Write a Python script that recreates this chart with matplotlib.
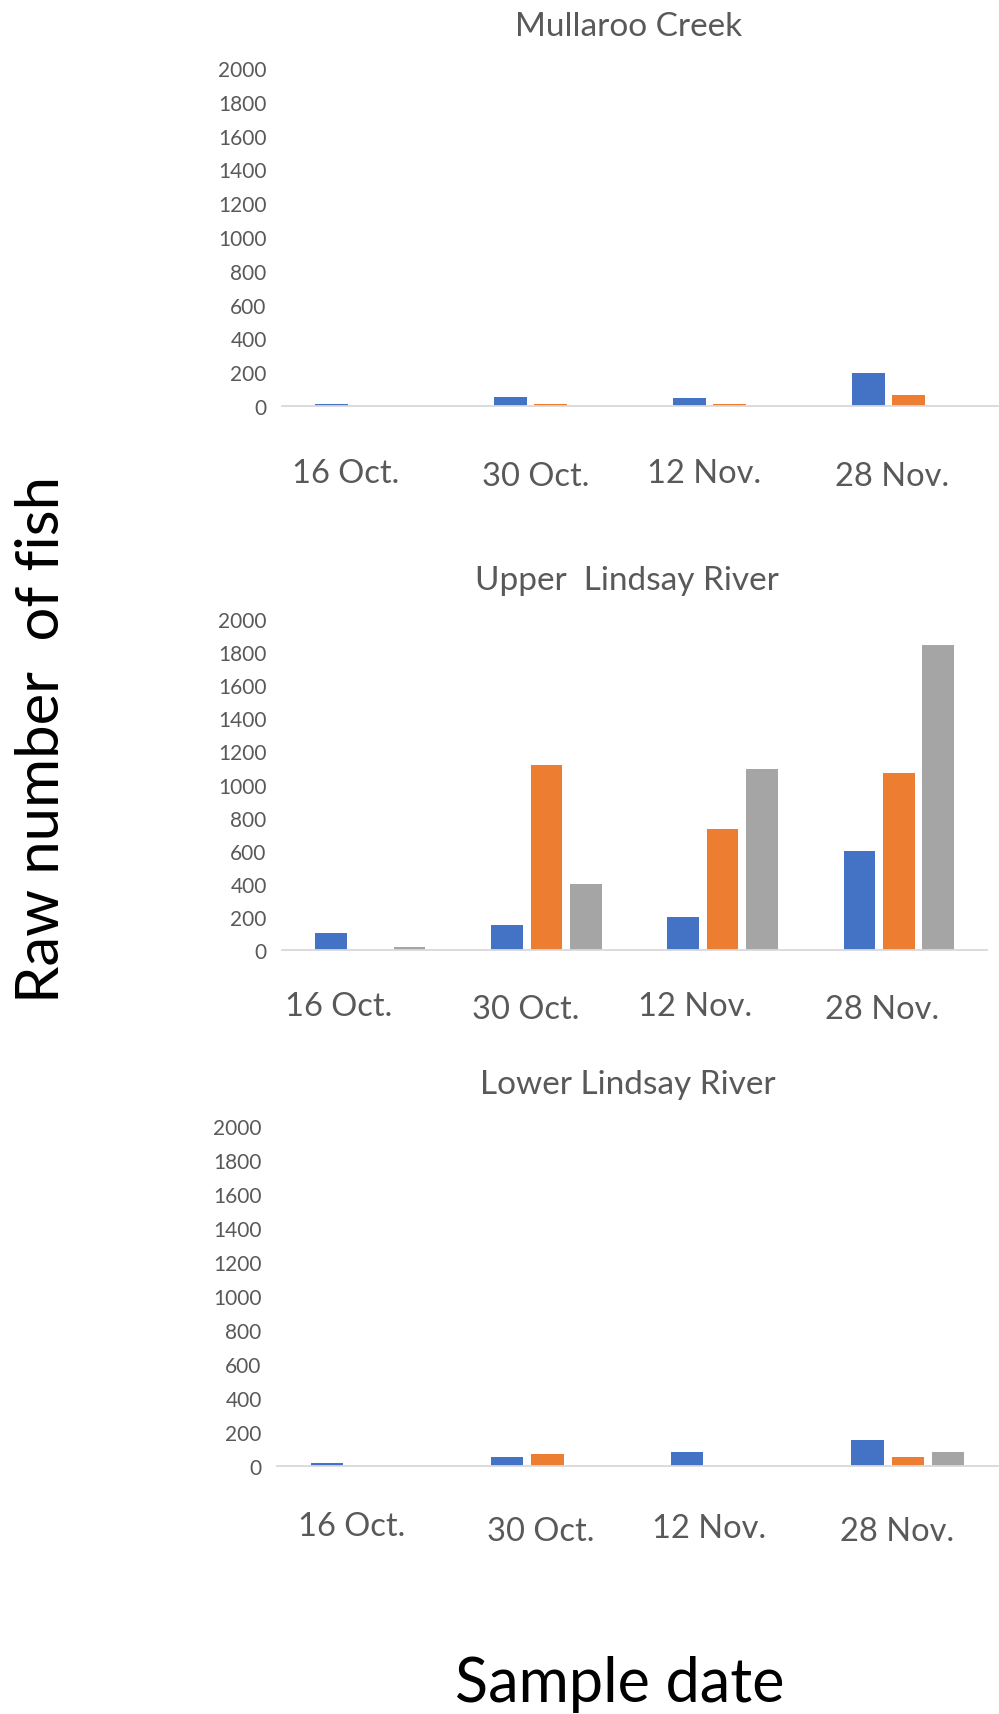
import matplotlib
matplotlib.use("Agg")
import matplotlib.pyplot as plt
import numpy as np

# data
dates = ["16 Oct.", "30 Oct.", "12 Nov.", "28 Nov."]
sites = ["Mullaroo Creek", "Upper  Lindsay River", "Lower Lindsay River"]
mullaroo_a = [12, 51, 45, 194]
mullaroo_b = [0, 14, 12, 65]
mullaroo_c = [0, 0, 0, 0]
upper_a = [100, 150, 200, 600]
upper_b = [0, 1115, 730, 1070]
upper_c = [20, 400, 1095, 1840]
lower_a = [15, 55, 80, 155]
lower_b = [0, 70, 0, 55]
lower_c = [0, 0, 0, 80]

series = [
    (mullaroo_a, mullaroo_b, mullaroo_c),
    (upper_a, upper_b, upper_c),
    (lower_a, lower_b, lower_c),
]
colors = ["#4472C4", "#ED7D31", "#A5A5A5"]

W, H = 999, 1715
plt.rcParams['font.family'] = ['Lato', 'DejaVu Sans']

fig = plt.figure(figsize=(W / 100, H / 100), dpi=100)

# axes boxes in pixels: left, right, y of 2000, y of 0
boxes = [(282, 998, 69, 407), (282, 987, 620, 951), (277, 998, 1127, 1467)]
title_pos = [(629, 27), (627, 581), (628, 1085)]
# date label centres (pixels), these sit a bit off the groups in the original
label_pos = [
    [(346, 474), (536, 477), (704, 474), (892, 477)],
    [(339, 1007), (526, 1010), (695, 1007), (882, 1010)],
    [(352, 1527), (541, 1532), (709, 1529), (897, 1532)],
]

x = np.arange(len(dates))
for i, (l, r, top, bot) in enumerate(boxes):
    ax = fig.add_axes([l / W, 1 - bot / H, (r - l) / W, (bot - top) / H])
    for k, vals in enumerate(series[i]):
        ax.bar(x + (k - 1) * 0.224, vals, width=0.18, color=colors[k])
    ax.set_xlim(-0.5, 3.5)
    ax.set_ylim(0, 2000)
    ax.set_yticks(range(0, 2001, 200))
    ax.set_xticks([])
    ax.tick_params(axis='y', length=0, labelsize=15, labelcolor='#595959', pad=11)
    for s in ['top', 'right', 'left']:
        ax.spines[s].set_visible(False)
    ax.spines['bottom'].set_color('#D9D9D9')
    ax.spines['bottom'].set_linewidth(1.3)
    tx, ty = title_pos[i]
    fig.text(tx / W, 1 - ty / H, sites[i], ha='center', va='center',
             fontsize=24, color='#595959')
    for d, (px, py) in zip(dates, label_pos[i]):
        fig.text(px / W, 1 - py / H, d, ha='center', va='center',
                 fontsize=23.5, color='#595959')

fig.text(42 / W, 1 - 740 / H, "Raw number  of fish", rotation=90,
         ha='center', va='center', fontsize=43, color='black')
fig.text(620 / W, 1 - 1685 / H, "Sample date", ha='center', va='center',
         fontsize=44, color='black')

fig.savefig("out.png", dpi=100)
